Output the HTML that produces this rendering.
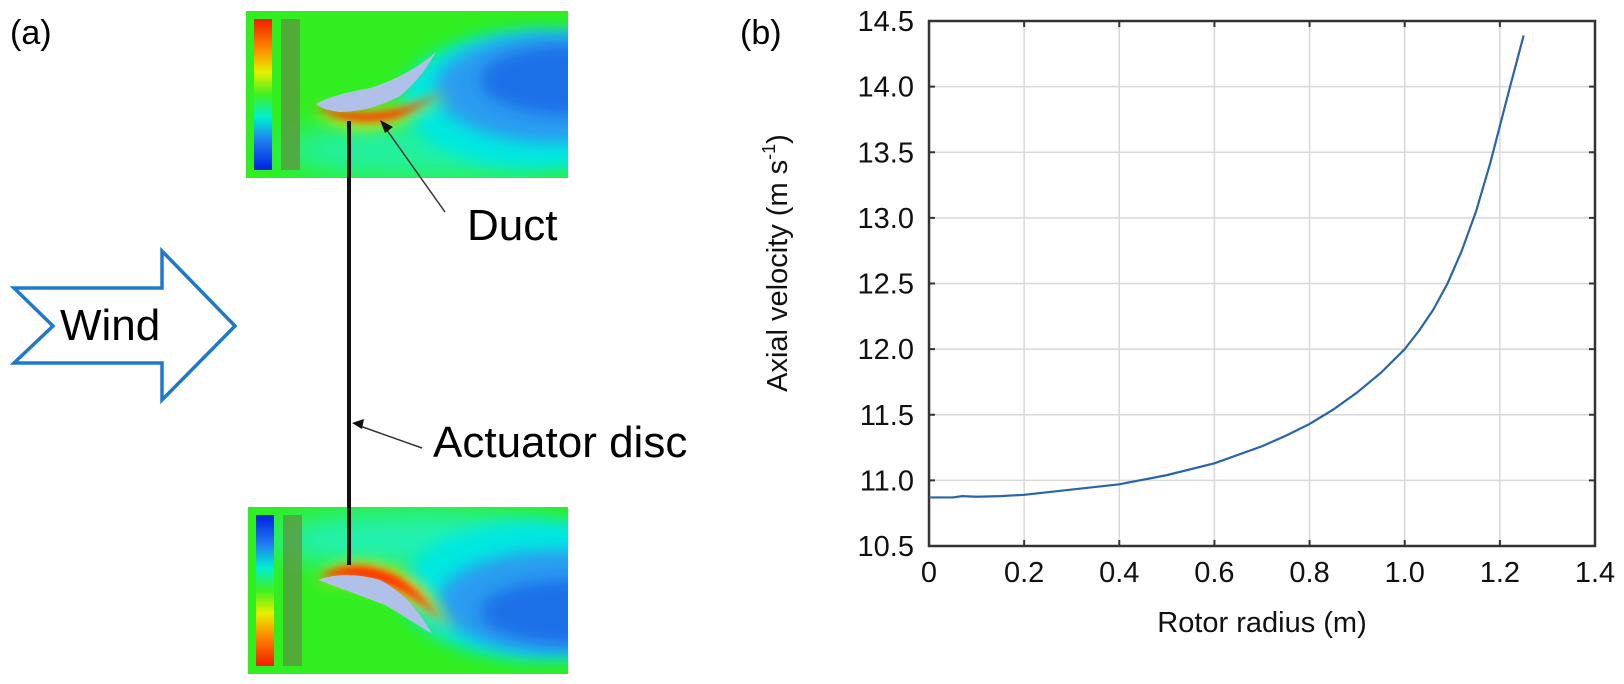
<!DOCTYPE html>
<html><head><meta charset="utf-8"><style>
html,body{margin:0;padding:0;background:#fff;width:1624px;height:684px;overflow:hidden}
svg{display:block;font-family:"Liberation Sans",Arial,sans-serif}
</style></head><body>
<svg id="fig" width="1624" height="684" viewBox="0 0 1624 684">
<defs>
<filter id="b8" x="-50%" y="-50%" width="200%" height="200%"><feGaussianBlur stdDeviation="8"/></filter>
<filter id="b4" x="-50%" y="-50%" width="200%" height="200%"><feGaussianBlur stdDeviation="4"/></filter>
<filter id="b14" x="-50%" y="-50%" width="200%" height="200%"><feGaussianBlur stdDeviation="14"/></filter>
<linearGradient id="legTop" x1="0" y1="0" x2="0" y2="1">
<stop offset="0" stop-color="#f01e00"/><stop offset="0.2" stop-color="#ff8a00"/><stop offset="0.35" stop-color="#e8f000"/><stop offset="0.5" stop-color="#40f020"/><stop offset="0.65" stop-color="#00f0d0"/><stop offset="0.8" stop-color="#2080f0"/><stop offset="1" stop-color="#0020e0"/></linearGradient>
<linearGradient id="legBot" x1="0" y1="1" x2="0" y2="0">
<stop offset="0" stop-color="#f01e00"/><stop offset="0.2" stop-color="#ff8a00"/><stop offset="0.35" stop-color="#e8f000"/><stop offset="0.5" stop-color="#40f020"/><stop offset="0.65" stop-color="#00f0d0"/><stop offset="0.8" stop-color="#2080f0"/><stop offset="1" stop-color="#0020e0"/></linearGradient>
<clipPath id="cTop"><rect x="246" y="11" width="322" height="167"/></clipPath>
<clipPath id="cBot"><rect x="248" y="507" width="320" height="167"/></clipPath>
</defs>

<text x="10" y="44" font-size="34">(a)</text>

<g clip-path="url(#cTop)">
<rect x="246" y="11" width="322" height="167" fill="#30ee20"/>
<ellipse cx="430" cy="150" rx="150" ry="30" fill="#20f0a0" filter="url(#b14)"/>
<ellipse cx="540" cy="100" rx="140" ry="70" fill="#00e8e0" filter="url(#b8)"/>
<ellipse cx="555" cy="88" rx="120" ry="55" fill="#2a9cf0" filter="url(#b8)"/>
<ellipse cx="570" cy="80" rx="90" ry="35" fill="#1a70e8" filter="url(#b8)"/>
<path d="M312,108 Q360,150 440,100 L450,92 Q380,125 312,108Z" fill="#f8e000" filter="url(#b8)"/>
<path d="M314,106 Q345,128 395,118 Q420,108 440,92 Q385,125 314,106Z" fill="#ff3000" filter="url(#b4)"/>
<path d="M316,104 Q330,95 370,88 Q410,75 436,52 Q420,80 400,96 Q370,112 340,112 Q322,110 316,104Z" fill="#b0c0e8"/>
<rect x="254" y="19" width="18" height="151" fill="url(#legTop)"/>
<rect x="281" y="19" width="19" height="151" fill="#5a9a40" opacity="0.8"/>
</g>

<g clip-path="url(#cBot)">
<rect x="248" y="507" width="320" height="167" fill="#30ee20"/>
<ellipse cx="420" cy="540" rx="150" ry="30" fill="#20f0b0" filter="url(#b14)"/>
<ellipse cx="540" cy="590" rx="140" ry="70" fill="#00e8e0" filter="url(#b8)"/>
<ellipse cx="558" cy="602" rx="120" ry="52" fill="#2a9cf0" filter="url(#b8)"/>
<ellipse cx="570" cy="612" rx="90" ry="32" fill="#1a70e8" filter="url(#b8)"/>
<path d="M316,580 Q360,545 420,585 Q440,610 455,635 Q400,580 316,580Z" fill="#f8e000" filter="url(#b8)"/>
<path d="M318,578 Q350,555 395,575 Q420,590 440,620 Q390,570 318,578Z" fill="#ff3000" filter="url(#b4)"/>
<path d="M318,580 Q345,570 380,580 Q410,595 432,634 Q410,620 385,605 Q345,590 318,580Z" fill="#b0c0e8"/>
<rect x="256" y="515" width="18" height="151" fill="url(#legBot)"/>
<rect x="283" y="515" width="19" height="151" fill="#5a9a40" opacity="0.8"/>
</g>

<line x1="349" y1="121" x2="349" y2="565" stroke="#111" stroke-width="4"/>
<line x1="445" y1="212" x2="384" y2="126" stroke="#333" stroke-width="1.5"/>
<polygon points="380,120 393,127 385,133" fill="#111"/>
<text x="467" y="240" font-size="44">Duct</text>
<line x1="422" y1="448" x2="357" y2="425" stroke="#333" stroke-width="1.5"/>
<polygon points="352,423 364,419 362,429" fill="#111"/>
<text x="433" y="457" font-size="44">Actuator disc</text>

<polygon points="14,288 162,288 162,251 235,326 162,400 162,363 14,363 53,326" fill="#fff" stroke="#1f78c8" stroke-width="3.5"/>
<text x="60" y="340" font-size="44">Wind</text>

<text x="740" y="44" font-size="34">(b)</text>
<g id="chart"></g>
</svg>
<script>
const xTicks=[0,0.2,0.4,0.6,0.8,1.0,1.2,1.4];
const xTickLabels=["0","0.2","0.4","0.6","0.8","1.0","1.2","1.4"];
const yTicks=[10.5,11.0,11.5,12.0,12.5,13.0,13.5,14.0,14.5];
const yTickLabels=["10.5","11.0","11.5","12.0","12.5","13.0","13.5","14.0","14.5"];
const radius=[0,0.05,0.07,0.1,0.15,0.2,0.3,0.4,0.5,0.6,0.7,0.75,0.8,0.85,0.9,0.95,1.0,1.03,1.06,1.09,1.12,1.15,1.18,1.2,1.22,1.25];
const velocity=[10.87,10.87,10.88,10.875,10.88,10.89,10.93,10.97,11.04,11.13,11.26,11.34,11.43,11.54,11.67,11.82,12.0,12.14,12.3,12.5,12.75,13.05,13.42,13.7,13.98,14.39];
const L=929,R=1595,T=21,B=546,x0=0,x1=1.4,y0=10.5,y1=14.5;
const sx=v=>L+(v-x0)/(x1-x0)*(R-L);
const sy=v=>B-(v-y0)/(y1-y0)*(B-T);
const g=document.getElementById('chart');
const NS='http://www.w3.org/2000/svg';
function mk(t,a){const e=document.createElementNS(NS,t);for(const k in a)e.setAttribute(k,a[k]);g.appendChild(e);return e;}
xTicks.forEach((v,i)=>{
  const X=sx(v);
  const gl=mk('line',{x1:X,y1:T,x2:X,y2:B,stroke:'#d8d8d8','stroke-width':1.5});
  
  
  mk('line',{x1:X,y1:B,x2:X,y2:B-6,stroke:'#333','stroke-width':2});
  mk('line',{x1:X,y1:T,x2:X,y2:T+6,stroke:'#333','stroke-width':2});
  const t=mk('text',{x:X,y:B+36,'font-size':29,'text-anchor':'middle',fill:'#111'});
  t.textContent=xTickLabels[i];
  
  
});
yTicks.forEach((v,i)=>{
  const Y=sy(v);
  const gl=mk('line',{x1:L,y1:Y,x2:R,y2:Y,stroke:'#d8d8d8','stroke-width':1.5});
  
  
  mk('line',{x1:L,y1:Y,x2:L+6,y2:Y,stroke:'#333','stroke-width':2});
  mk('line',{x1:R,y1:Y,x2:R-6,y2:Y,stroke:'#333','stroke-width':2});
  const t=mk('text',{x:914,y:Y+10,'font-size':29,'text-anchor':'end',fill:'#111'});
  t.textContent=yTickLabels[i];
  
  
});
const box=mk('rect',{x:L,y:T,width:R-L,height:B-T,fill:'none',stroke:'#333','stroke-width':2.5});


const line=mk('polyline',{points:radius.map((r,i)=>sx(r)+','+sy(velocity[i])).join(' '),fill:'none',stroke:'#2a64a8','stroke-width':2.2,'stroke-linejoin':'round'});


const xt=mk('text',{x:(L+R)/2,y:632,'font-size':29,'text-anchor':'middle',fill:'#111'});
xt.textContent='Rotor radius (m)';


const yt=mk('text',{x:0,y:0,'font-size':29,'text-anchor':'middle',fill:'#111',transform:'translate(787,263) rotate(-90)'});
yt.innerHTML='Axial velocity (m s<tspan font-size="18" dy="-12">-1</tspan><tspan dy="12">)</tspan>';


</script>
</body></html>
